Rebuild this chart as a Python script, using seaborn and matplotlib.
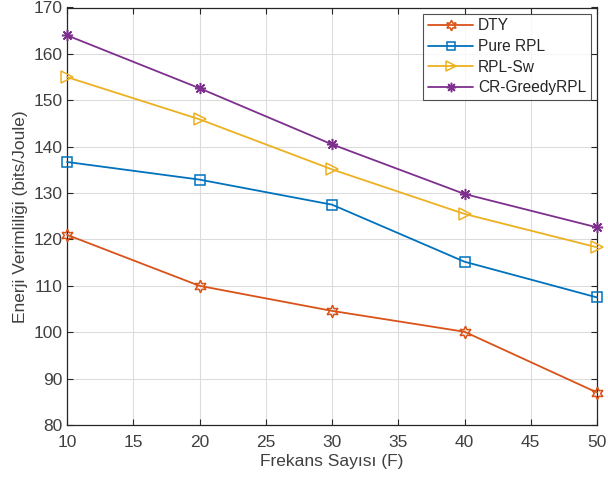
import matplotlib
matplotlib.use("Agg")
import matplotlib.pyplot as plt
import seaborn as sns
import pandas as pd

freq = [10, 20, 30, 40, 50]
series_names = ["DTY", "Pure RPL", "RPL-Sw", "CR-GreedyRPL"]
dty = [121.0, 110.0, 104.6, 100.1, 87.0]
pure_rpl = [136.7, 132.9, 127.5, 115.2, 107.5]
rpl_sw = [155.0, 145.9, 135.1, 125.5, 118.3]
cr_greedy = [164.0, 152.6, 140.5, 129.8, 122.6]
x_label = "Frekans Sayısı (F)"
y_label = "Enerji Verimliliği (bits/Joule)"
x_ticks = [10, 15, 20, 25, 30, 35, 40, 45, 50]
y_ticks = [80, 90, 100, 110, 120, 130, 140, 150, 160, 170]

values = {"DTY": dty, "Pure RPL": pure_rpl, "RPL-Sw": rpl_sw, "CR-GreedyRPL": cr_greedy}
rows = []
for name in series_names:
    for f, v in zip(freq, values[name]):
        rows.append({"F": f, "val": v, "series": name})
df = pd.DataFrame(rows)

sns.set_style("white")
plt.rcParams["font.family"] = ["Liberation Sans", "DejaVu Sans"]

palette = {"DTY": "#D95319", "Pure RPL": "#0072BD", "RPL-Sw": "#EDB120", "CR-GreedyRPL": "#7E2F8E"}
markers = {"DTY": (6, 1, 0), "Pure RPL": "s", "RPL-Sw": ">", "CR-GreedyRPL": (8, 2, 0)}
msizes = {"DTY": 9, "Pure RPL": 7, "RPL-Sw": 9, "CR-GreedyRPL": 8}

fig = plt.figure(figsize=(6.08, 4.79), dpi=100)
ax = fig.add_axes([67 / 608, 1 - 425 / 479, (597 - 67) / 608, (425 - 7.5) / 479])

for name in series_names:
    sub = df[df["series"] == name]
    sns.lineplot(data=sub, x="F", y="val", ax=ax, color=palette[name], marker=markers[name],
                 markersize=msizes[name], markerfacecolor="none", markeredgecolor=palette[name],
                 markeredgewidth=1.1, linewidth=1.3, label=name, clip_on=False, zorder=3)

ax.set_xlim(10, 50)
ax.set_ylim(80, 170)
ax.set_xticks(x_ticks)
ax.set_yticks(y_ticks)
ax.grid(True, color="#dcdcdc", linewidth=0.8)
ax.set_axisbelow(True)
for s in ax.spines.values():
    s.set_color("#262626")
    s.set_linewidth(0.9)
    s.set_visible(True)
ax.tick_params(direction="in", length=4, width=0.8, colors="#262626", labelsize=12.5,
               top=True, right=True, bottom=True, left=True)
ax.tick_params(axis="both", labelcolor="#404040")
ax.tick_params(axis="x", pad=7)
ax.tick_params(axis="y", pad=3)
ax.set_xlabel(x_label, fontsize=12.5, color="#404040", labelpad=3)
ax.set_ylabel(y_label, fontsize=12.5, color="#404040", labelpad=4)

leg = ax.legend(loc="upper right", fontsize=11.2, frameon=True, fancybox=False,
                edgecolor="#262626", handlelength=2.9, borderpad=0.3, labelspacing=0.36,
                handletextpad=0.3, borderaxespad=0.4, markerscale=0.85)
leg.get_frame().set_linewidth(0.8)
for t in leg.get_texts():
    t.set_color("#262626")

fig.savefig("out.png", dpi=100)
